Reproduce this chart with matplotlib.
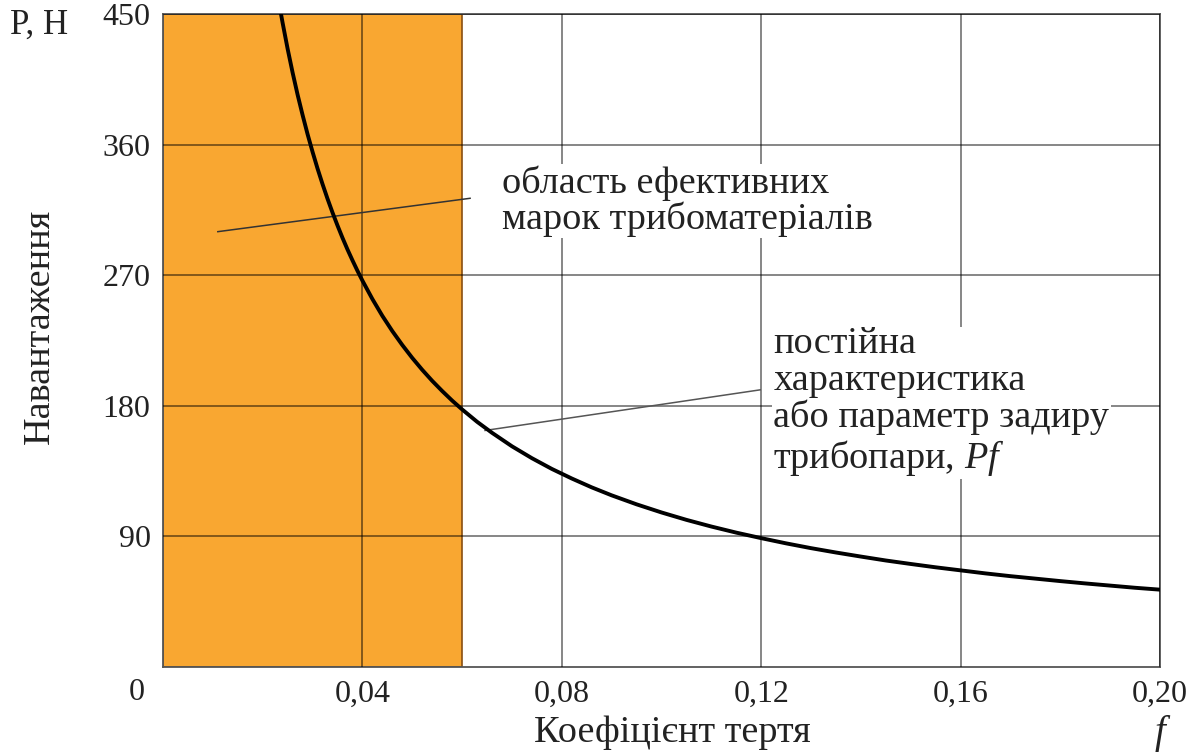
import matplotlib
matplotlib.use("Agg")
import matplotlib.pyplot as plt
from matplotlib.patches import Rectangle

plt.rcParams['font.family'] = ['Liberation Serif', 'DejaVu Serif']
plt.rcParams['mathtext.fontset'] = 'custom'
plt.rcParams['mathtext.rm'] = 'Liberation Serif'
plt.rcParams['mathtext.it'] = 'Liberation Serif:italic'

# Friction coefficient f and load P (N) along the constant-characteristic curve
f_values = [0.0235, 0.024, 0.025, 0.026, 0.027, 0.028, 0.029, 0.030, 0.031, 0.032,
            0.033, 0.034, 0.035, 0.036, 0.037, 0.038, 0.039, 0.040, 0.042, 0.044,
            0.046, 0.048, 0.050, 0.052, 0.054, 0.056, 0.058, 0.060, 0.063, 0.066,
            0.070, 0.074, 0.078, 0.082, 0.086, 0.090, 0.095, 0.100, 0.105, 0.110,
            0.115, 0.120, 0.125, 0.130, 0.135, 0.140, 0.145, 0.150, 0.155, 0.160,
            0.165, 0.170, 0.175, 0.180, 0.185, 0.190, 0.195, 0.200]
P_values = [453.2, 443.8, 426.0, 409.6, 394.4, 380.4, 367.2, 355.0, 343.5, 332.8,
            322.7, 313.2, 304.3, 295.8, 287.8, 280.3, 273.1, 266.3, 253.6, 242.0,
            231.5, 221.9, 213.0, 204.8, 197.2, 190.2, 183.6, 177.5, 169.0, 161.4,
            152.1, 143.9, 136.5, 129.9, 123.8, 118.3, 112.1, 106.5, 101.4, 96.8,
            92.6, 88.8, 85.2, 81.9, 78.9, 76.1, 73.4, 71.0, 68.7, 66.6,
            64.5, 62.6, 60.9, 59.2, 57.6, 56.1, 54.6, 53.3]

x_ticks = [0.04, 0.08, 0.12, 0.16, 0.20]
x_tick_labels = ['0,04', '0,08', '0,12', '0,16', '0,20']
y_ticks = [90, 180, 270, 360, 450]
y_tick_labels = ['90', '180', '270', '360', '450']

effective_region = (0.0, 0.06)   # range of effective tribomaterial grades

fig = plt.figure(figsize=(12, 7.54), dpi=100)
ax = fig.add_axes([163 / 1200, 1 - 667 / 754, 997 / 1200, 653 / 754])
ax.set_xlim(0, 0.20)
ax.set_ylim(0, 450)

# Shaded region of effective materials
ax.add_patch(Rectangle((effective_region[0], 0), effective_region[1] - effective_region[0], 450,
                       facecolor='#F9A731', edgecolor='#8a4f10', lw=1.2, zorder=0.5))

ax.set_xticks(x_ticks)
ax.set_xticklabels(x_tick_labels)
ax.set_yticks(y_ticks)
ax.set_yticklabels(y_tick_labels)
ax.tick_params(length=0, labelsize=23, colors='#222222', pad=9)
ax.grid(True, color='black', alpha=0.6, lw=1.1, zorder=1)
ax.set_axisbelow(False)
for sp in ax.spines.values():
    sp.set_color('#555555')
    sp.set_linewidth(1.3)
    sp.set_zorder(2)

# Curve P * f = const
ax.plot(f_values, P_values, color='black', lw=2.8, zorder=5, clip_on=True,
        solid_joinstyle='round')

# Leader lines
ax.plot([0.0110, 0.0616], [300, 323], color='#333333', lw=1.1, zorder=3)
ax.plot([0.0646, 0.1198], [163, 191], color='#555555', lw=1.1, zorder=3)

ax.text(0.0680, 321, 'область ефективних\nмарок трибоматеріалів', fontsize=27.5,
        ha='left', va='center', linespacing=1.02, color='#222222', zorder=4,
        bbox=dict(facecolor='white', edgecolor='none', pad=1))
ax.text(0.1224, 182.5, 'постійна\nхарактеристика\nабо параметр задиру\nтрибопари, $\\mathit{Pf}$',
        fontsize=27.5, ha='left', va='center', linespacing=1.08, color='#222222', zorder=4,
        bbox=dict(facecolor='white', edgecolor='none', pad=1))

# Axis texts
fig.text(137 / 1200, 1 - 692 / 754, '0', fontsize=23, ha='center', va='center', color='#222222')
fig.text(10 / 1200, 1 - 25 / 754, 'P, H', fontsize=25, ha='left', va='center', color='#222222')
fig.text(672 / 1200, 1 - 733 / 754, 'Коефіцієнт тертя', fontsize=27.5, ha='center', va='center',
         color='#222222')
fig.text(1160 / 1200, 1 - 733 / 754, 'f', fontsize=28, style='italic', ha='center', va='center',
         color='#222222')
fig.text(40 / 1200, 1 - 326 / 754, 'Навантаження', fontsize=27.5, rotation=90, ha='center',
         va='center', color='#222222')

fig.savefig('out.png', dpi=100)
